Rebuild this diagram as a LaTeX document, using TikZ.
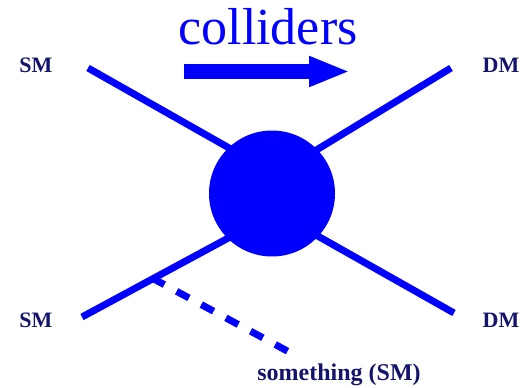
\documentclass[tikz,border=0pt]{standalone}
\usepackage{fontspec}
\setmainfont{Liberation Serif}
\usetikzlibrary{arrows.meta}
\definecolor{pblue}{RGB}{0,0,255}
\definecolor{lbl}{RGB}{20,20,110}
\begin{document}
\begin{tikzpicture}[x=1pt,y=-1pt,
  leg/.style={draw=pblue,line width=7pt},
  lab/.style={text=lbl,font=\bfseries\fontsize{22}{24}\selectfont,inner sep=0pt},
  blob/.style={circle,fill=pblue,draw=none,minimum size=126pt,inner sep=0pt}]
\useasboundingbox (0,0) rectangle (528,388);
\coordinate (tl) at (88,68);
\coordinate (tr) at (451,68);
\coordinate (bl) at (82,317);
\coordinate (br) at (454,313);
\coordinate (tlin) at (245,157);
\coordinate (trin) at (300,160);
\coordinate (blin) at (245,229);
\coordinate (brin) at (300,226);
\draw[leg] (tl) -- (tlin);
\draw[leg] (tr) -- (trin);
\draw[leg] (bl) -- (blin);
\draw[leg] (br) -- (brin);
\node[blob] (b) at (272,193.5) {};
\coordinate (ds) at (152,278);
\coordinate (de) at (291,353);
\draw[draw=pblue,line width=7pt,dash pattern=on 14pt off 14pt] (ds) -- (de);
\coordinate (as) at (184,71.5);
\coordinate (ae) at (350,71.5);
\draw[draw=pblue,line width=15pt,-{Triangle[width=28pt,length=41pt]}] (as) -- (ae);
\node[text=pblue,font=\fontsize{52}{56}\selectfont,anchor=base,inner sep=0pt] (coll) at (268,45) {colliders};
\node[lab] (sm1) at (36,65) {SM};
\node[lab] (dm1) at (501,65) {DM};
\node[lab] (sm2) at (36,320) {SM};
\node[lab] (dm2) at (501,320) {DM};
\node[text=lbl,font=\bfseries\fontsize{24}{26}\selectfont,inner sep=0pt,anchor=base] (sth) at (339,380) {something (SM)};
\end{tikzpicture}
\end{document}
